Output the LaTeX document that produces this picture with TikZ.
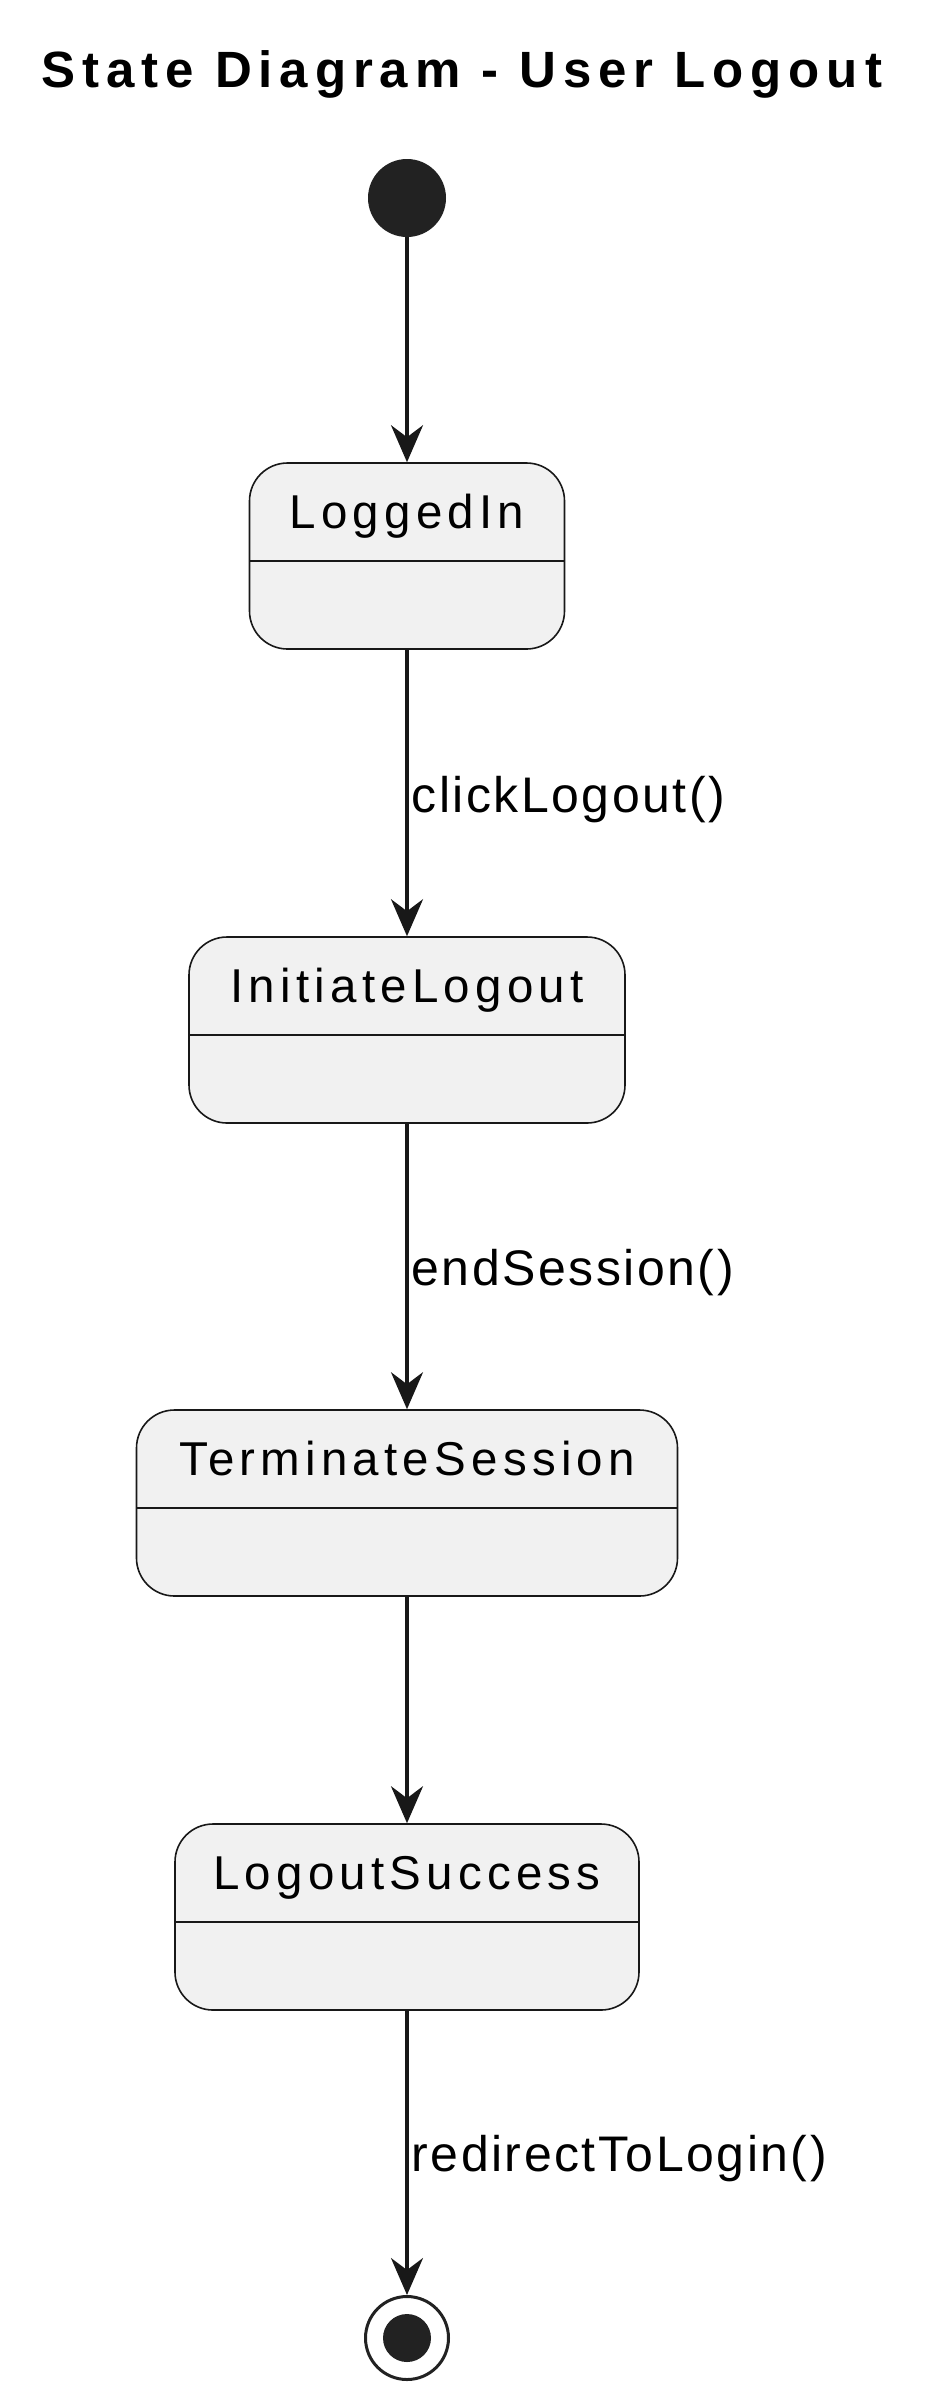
\documentclass[tikz,border=0pt]{standalone}
\usepackage{fontspec}
\usetikzlibrary{arrows.meta}
\setmainfont{Liberation Sans}
\newfontfamily\titlefont[LetterSpace=13.5]{Liberation Sans}
\newfontfamily\statefont[LetterSpace=11]{Liberation Sans}
\newfontfamily\labelfont[LetterSpace=5]{Liberation Sans}
\definecolor{umlfill}{RGB}{241,241,241}
\definecolor{umlline}{RGB}{24,24,24}
\definecolor{umldot}{RGB}{34,34,34}

\tikzset{
  umlstate/.style={draw=umlline, fill=umlfill, line width=0.8pt, rounded corners=19pt,
    minimum height=93pt, inner sep=0pt, text height=32.5pt, text depth=60.5pt,
    font=\statefont\fontsize{23.75}{28}\selectfont,
    path picture={\draw[umlline, line width=0.8pt]
      ([yshift=-49pt]path picture bounding box.north west) --
      ([yshift=-49pt]path picture bounding box.north east);}},
  trans/.style={draw=umlline, line width=1.6pt,
    -{Stealth[length=18.5pt, width=16pt, inset=6pt]}},
  translabel/.style={anchor=base west, inner sep=0pt, xshift=1.5pt, yshift=-9.5pt,
    font=\labelfont\fontsize{25}{30}\selectfont}
}

\begin{document}
\begin{tikzpicture}[x=0.5pt, y=-0.5pt]
  \useasboundingbox[fill=white] (0,0) rectangle (942,2400);

  % Title
  \node[anchor=base, font=\titlefont\bfseries\fontsize{25.5}{30}\selectfont]
    (title) at (462,87) {State Diagram - User Logout};

  % Initial state
  \node[circle, fill=umldot, minimum size=39pt, inner sep=0pt] (start) at (407,198) {};

  % States
  \node[umlstate, minimum width=157.5pt] (loggedin) at (407,556) {LoggedIn};
  \node[umlstate, minimum width=218pt] (initiate) at (407,1030) {InitiateLogout};
  \node[umlstate, minimum width=270.5pt] (terminate) at (407,1503) {TerminateSession};
  \node[umlstate, minimum width=232pt] (success) at (407,1917) {LogoutSuccess};

  % Final state
  \node[circle, draw=umldot, line width=1.5pt, minimum size=41.5pt, inner sep=0pt] (stop) at (407,2338) {};
  \fill[umldot] (stop.center) circle[radius=12pt];

  % Transitions
  \draw[trans] (start) -- (loggedin);
  \draw[trans] (loggedin) -- node[translabel] {clickLogout()} (initiate);
  \draw[trans] (initiate) -- node[translabel] {endSession()} (terminate);
  \draw[trans] (terminate) -- (success);
  \draw[trans] (success) -- node[translabel] {redirectToLogin()} (stop);
\end{tikzpicture}
\end{document}
